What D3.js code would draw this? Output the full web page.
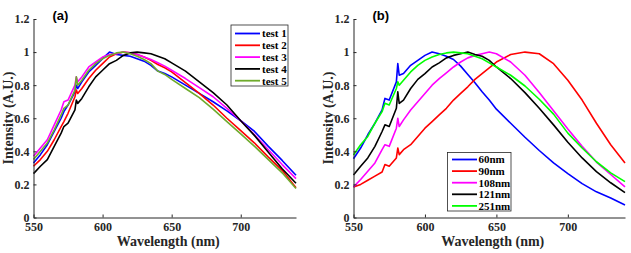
<!DOCTYPE html>
<meta charset="utf-8">
<script src="https://d3js.org/d3.v7.min.js"></script>
<style>
  body { margin: 0; background: #fff; }
  .tick text { font-family: "Liberation Serif", "Times New Roman", serif; font-weight: bold; font-size: 12px; fill: #262626; }
  .domain, .tick line { stroke: #262626; }
</style>
<div id="screen"></div>
<script>

  // shared wavelength grid (nm)
  var wl = [550, 555, 560, 565, 570, 572, 575, 580, 581, 582, 585, 590, 595, 600, 605, 610,
            615, 620, 625, 630, 635, 640, 645, 650, 660, 670, 680, 690, 700, 710, 720, 730, 740];

  // panel (a)
  var test1 = [0.33, 0.38, 0.44, 0.52, 0.60, 0.64, 0.68, 0.76, 0.80, 0.78, 0.82, 0.88, 0.92, 0.96, 1.00, 0.985,
               0.98, 0.975, 0.96, 0.945, 0.92, 0.885, 0.87, 0.85, 0.80, 0.75, 0.70, 0.645, 0.585, 0.52, 0.43, 0.345, 0.255];
  var test2 = [0.31, 0.35, 0.40, 0.47, 0.55, 0.58, 0.63, 0.73, 0.77, 0.75, 0.78, 0.84, 0.89, 0.93, 0.97, 0.99,
               1.00, 0.995, 0.985, 0.97, 0.95, 0.925, 0.905, 0.88, 0.815, 0.75, 0.68, 0.60, 0.525, 0.45, 0.365, 0.285, 0.18];
  var test3 = [0.37, 0.42, 0.47, 0.56, 0.65, 0.70, 0.71, 0.80, 0.85, 0.82, 0.85, 0.91, 0.94, 0.97, 0.985, 0.99,
               1.00, 0.995, 0.985, 0.97, 0.955, 0.935, 0.915, 0.89, 0.84, 0.785, 0.73, 0.66, 0.585, 0.50, 0.41, 0.32, 0.235];
  var test4 = [0.265, 0.31, 0.35, 0.43, 0.51, 0.55, 0.57, 0.65, 0.71, 0.69, 0.72, 0.79, 0.85, 0.89, 0.93, 0.95,
               0.98, 0.995, 1.00, 0.995, 0.99, 0.975, 0.96, 0.935, 0.885, 0.82, 0.755, 0.68, 0.585, 0.495, 0.395, 0.295, 0.207];
  var test5 = [0.35, 0.40, 0.45, 0.53, 0.62, 0.66, 0.68, 0.77, 0.85, 0.80, 0.83, 0.89, 0.93, 0.96, 0.98, 0.995,
               1.00, 0.99, 0.975, 0.955, 0.93, 0.885, 0.865, 0.835, 0.78, 0.725, 0.655, 0.58, 0.505, 0.43, 0.35, 0.27, 0.175];

  // panel (b)
  var nm60  = [0.355, 0.42, 0.50, 0.57, 0.65, 0.72, 0.71, 0.82, 0.93, 0.86, 0.87, 0.92, 0.95, 0.98, 1.00, 0.99,
               0.975, 0.955, 0.915, 0.865, 0.815, 0.76, 0.71, 0.655, 0.57, 0.485, 0.405, 0.33, 0.265, 0.205, 0.155, 0.118, 0.076];
  var nm90  = [0.185, 0.20, 0.225, 0.25, 0.275, 0.32, 0.31, 0.36, 0.42, 0.38, 0.41, 0.44, 0.49, 0.54, 0.58, 0.62,
               0.66, 0.71, 0.75, 0.79, 0.835, 0.87, 0.905, 0.94, 0.985, 1.00, 0.99, 0.93, 0.83, 0.71, 0.57, 0.44, 0.33];
  var nm108 = [0.185, 0.23, 0.28, 0.33, 0.41, 0.44, 0.43, 0.54, 0.60, 0.55, 0.59, 0.65, 0.70, 0.75, 0.80, 0.84,
               0.875, 0.91, 0.94, 0.965, 0.98, 0.99, 1.00, 0.99, 0.94, 0.86, 0.755, 0.645, 0.535, 0.43, 0.335, 0.26, 0.185];
  var nm121 = [0.257, 0.31, 0.36, 0.43, 0.52, 0.56, 0.55, 0.66, 0.76, 0.69, 0.71, 0.78, 0.835, 0.87, 0.91, 0.935,
               0.965, 0.98, 0.99, 1.00, 0.985, 0.975, 0.95, 0.91, 0.84, 0.755, 0.66, 0.56, 0.455, 0.36, 0.277, 0.21, 0.15];
  var nm251 = [0.378, 0.44, 0.49, 0.57, 0.64, 0.69, 0.68, 0.78, 0.82, 0.80, 0.83, 0.88, 0.92, 0.95, 0.97, 0.985,
               0.995, 1.00, 0.995, 0.99, 0.975, 0.96, 0.935, 0.91, 0.86, 0.795, 0.715, 0.625, 0.51, 0.42, 0.337, 0.27, 0.217];

  var xTicks = [550, 600, 650, 700];
  var yTicks = [0, 0.2, 0.4, 0.6, 0.8, 1, 1.2];

  var panels = [
    { tag: "(a)", left: 33.5, right: 296, names: ["test 1", "test 2", "test 3", "test 4", "test 5"],
      series: [test1, test2, test3, test4, test5],
      colors: ["#0000ff", "#ff0000", "#ff00ff", "#000000", "#6fab2c"],
      legend: { x: 231, y: 25, w: 57, h: 61, lx0: 235, lx1: 260, tx: 262, y0: 33.5, dy: 11.8 } },
    { tag: "(b)", left: 353.5, right: 625, names: ["60nm", "90nm", "108nm", "121nm", "251nm"],
      series: [nm60, nm90, nm108, nm121, nm251],
      colors: ["#0000ff", "#ff0000", "#ff00ff", "#000000", "#00ff00"],
      legend: { x: 447.5, y: 152.5, w: 63.5, h: 58.5, lx0: 452, lx1: 477, tx: 478.5, y0: 159.5, dy: 11.6 } }
  ];

  var plotTop = 19, plotBottom = 217.5;

  var svg = d3.select("#screen")
      .append("svg")
      .attr("width", 631)
      .attr("height", 253);

  panels.forEach(function(p) {
      var x = d3.scaleLinear().domain([550, 740]).range([p.left, p.right]);
      var y = d3.scaleLinear().domain([0, 1.2]).range([plotBottom, plotTop]);
      var g = svg.append("g");

      var line = d3.line()
          .x(function(d, i) { return x(wl[i]); })
          .y(function(d) { return y(d); });

      p.series.forEach(function(s, k) {
          g.append("path")
              .datum(s)
              .attr("fill", "none")
              .attr("stroke", p.colors[k])
              .attr("stroke-width", 1.6)
              .attr("stroke-linejoin", "round")
              .attr("d", line);
      });

      g.append("g")
          .attr("transform", "translate(0," + plotBottom + ")")
          .call(d3.axisBottom(x).tickValues(xTicks).tickFormat(d3.format("d"))
                .tickSizeInner(-3).tickSizeOuter(0).tickPadding(5));

      g.append("g")
          .attr("transform", "translate(" + p.left + ",0)")
          .call(d3.axisLeft(y).tickValues(yTicks).tickFormat(function(d) { return String(+d.toFixed(1)); })
                .tickSizeInner(-3).tickSizeOuter(0).tickPadding(4));

      g.append("text")
          .attr("x", (p.left + p.right) / 2 + 3.5)
          .attr("y", 245.5)
          .attr("text-anchor", "middle")
          .style("font-family", "Liberation Serif, serif")
          .style("font-weight", "bold")
          .style("font-size", "14px")
          .style("fill", "#262626")
          .text("Wavelength (nm)");

      g.append("text")
          .attr("transform", "translate(" + (p.left - 20.5) + "," + 118 + ") rotate(-90)")
          .attr("text-anchor", "middle")
          .style("font-family", "Liberation Serif, serif")
          .style("font-weight", "bold")
          .style("font-size", "14px")
          .style("fill", "#262626")
          .text("Intensity (A.U.)");

      g.append("text")
          .attr("x", p.left + 19)
          .attr("y", 20)
          .style("font-family", "Liberation Sans, Arial, sans-serif")
          .style("font-weight", "bold")
          .style("font-size", "13px")
          .style("fill", "#000")
          .text(p.tag);

      // legend
      var L = p.legend;
      g.append("rect")
          .attr("x", L.x).attr("y", L.y).attr("width", L.w).attr("height", L.h)
          .attr("fill", "#fff").attr("stroke", "#262626").attr("stroke-width", 0.8);
      p.names.forEach(function(n, k) {
          var yy = L.y0 + k * L.dy;
          g.append("line")
              .attr("x1", L.lx0).attr("x2", L.lx1).attr("y1", yy).attr("y2", yy)
              .attr("stroke", p.colors[k]).attr("stroke-width", 1.8);
          g.append("text")
              .attr("x", L.tx).attr("y", yy + 3.8)
              .style("font-family", "Liberation Serif, serif")
              .style("font-weight", "bold")
              .style("font-size", "11px")
              .style("fill", "#000")
              .text(n);
      });
  });

</script>
